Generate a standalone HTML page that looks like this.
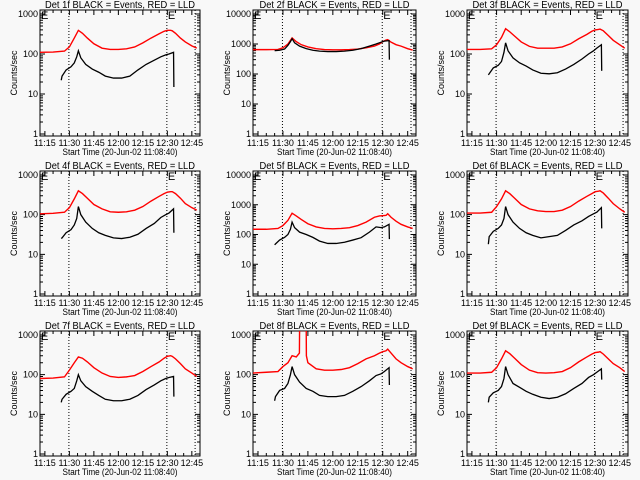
<!DOCTYPE html>
<html><head><meta charset="utf-8"><style>
body{margin:0;background:#f8f8f8}
svg{display:block}
text{font-family:"Liberation Sans",sans-serif;fill:#000}
</style></head><body>
<svg id="c" width="640" height="480" viewBox="0 0 640 480" xmlns="http://www.w3.org/2000/svg">
<rect width="640" height="480" fill="#f8f8f8"/>
</svg>
<script>
// ---- data ----
const detLabels = ["1f","2f","3f","4f","5f","6f","7f","8f","9f"];
const decadesTop = [3,4,3,3,4,3,3,3,3];
const xTickLabels = ["11:15","11:30","11:45","12:00","12:15","12:30","12:45"];
const xTickMinutes = [15,30,45,60,75,90,105];
const markerMinutes = [29.7,89.7,107];
const redT = [12,20,27,30,33,35.5,38,41,45,50,55,60,65,70,75,80,85,88,90,92,93,95,98,101,105,108];
const redT8 = [12,20,27,30,33,35.5,38,39.9,40,44,44.1,45,50,55,60,65,70,75,80,85,88,90,92,93,95,98,101,105,108];
const blackT = [25,25.5,28,31,33,34.5,35.5,37,40,44,48,52,57,62,67,72,77,82,86,89,91,93.8,94];
const red1 = [110,112,118,150,250,390,330,250,180,140,130,130,135,150,190,250,320,370,390,390,380,330,250,200,160,140];
const black1 = [22,28,40,48,60,85,120,80,55,42,35,28,25,25,28,40,55,70,85,95,100,110,15];
const red2 = [650,650,660,750,1000,1600,1200,950,800,700,650,640,640,650,680,750,850,1000,1200,1350,1400,1150,950,850,700,630];
const black2 = [600,600,620,680,900,1200,1500,1100,850,700,620,580,560,560,580,620,700,850,1000,1150,1250,1300,300];
const red3 = [130,130,135,170,260,430,360,280,200,155,140,140,140,150,180,240,310,370,400,410,420,380,290,220,170,140];
const black3 = [30,32,45,52,65,110,190,120,80,60,50,40,33,32,34,42,55,75,100,120,140,170,38];
const red4 = [105,108,115,150,250,400,340,260,180,140,118,115,118,130,160,220,290,340,370,380,380,340,260,190,150,130];
const black4 = [25,26,35,42,55,80,160,100,65,45,35,30,26,25,27,32,45,60,85,100,110,140,35];
const red5 = [150,150,160,200,300,520,420,320,230,180,160,155,160,170,200,260,380,420,430,440,500,380,280,220,180,160];
const black5 = [45,48,65,80,100,150,260,170,120,100,80,60,50,50,55,65,78,120,180,170,180,220,70];
const red6 = [110,110,115,160,250,400,340,260,180,140,125,120,120,130,160,220,290,340,380,390,400,350,260,190,140,115];
const black6 = [18,28,38,45,55,80,160,100,65,45,35,30,26,28,30,40,55,70,90,105,115,150,45];
const red7 = [80,82,88,130,200,280,260,210,150,110,90,85,88,95,120,160,210,260,290,300,290,250,190,140,110,90];
const black7 = [20,24,32,38,45,70,100,70,50,38,30,24,22,22,24,30,42,55,70,80,85,90,28];
const red8 = [110,115,120,160,200,300,280,350,1300,1300,300,200,140,130,130,135,150,190,250,300,350,380,400,440,350,250,200,160,140];
const black8 = [22,28,40,45,60,100,160,100,65,45,38,30,28,28,30,38,50,70,95,105,120,150,55];
const red9 = [110,110,115,150,250,400,340,260,180,130,112,110,112,120,150,210,280,330,360,370,380,330,250,190,150,120];
const black9 = [20,27,35,40,50,80,160,100,60,48,38,32,27,25,27,33,45,60,85,100,115,140,75];
const redSeries = [red1,red2,red3,red4,red5,red6,red7,red8,red9];
const blackSeries = [black1,black2,black3,black4,black5,black6,black7,black8,black9];
const redTimes = [redT,redT,redT,redT,redT,redT,redT,redT8,redT];

// ---- layout ----
const NS = "http://www.w3.org/2000/svg";
const svg = document.getElementById("c");
const boxL = [40,253,467], boxR = [200,416,628];
const boxT = [10,171,331], boxB = [136,296,456];
const tMin = 12, tMax = 110;
function mk(tag, attrs, parent){const e=document.createElementNS(NS,tag);for(const k in attrs)e.setAttribute(k,attrs[k]);(parent||svg).appendChild(e);return e;}

for(let p=0;p<9;p++){
  const col=p%3,row=Math.floor(p/3);
  const L=boxL[col],R=boxR[col],T=boxT[row],B=boxB[row];
  const dec=decadesTop[p];
  const ppd=(B-2-(T+4))/dec;
  const logTop=dec+4/ppd, logBot=-2/ppd;
  const xs=t=>L+(t-tMin)/(tMax-tMin)*(R-L);
  const ys=v=>B-(Math.log10(v)-logBot)/(logTop-logBot)*(B-T);
  const g=mk("g",{});
  
  
  const cp=mk("clipPath",{id:"cp"+p},g);
  mk("rect",{x:L,y:T,width:R-L,height:B-T},cp);
  // title
  const ti=mk("text",{x:(L+R)/2,y:T-2,"font-size":"10","text-anchor":"middle",textLength:150,lengthAdjust:"spacingAndGlyphs"},g);
  ti.textContent="Det "+detLabels[p]+" BLACK = Events, RED = LLD";
  
  
  // y label
  const yl=mk("text",{x:0,y:0,"font-size":"9","text-anchor":"middle",transform:`translate(${L-23},${(T+B)/2}) rotate(-90)`},g);
  yl.textContent="Counts/sec";
  
  
  // x title
  const xt=mk("text",{x:(L+R)/2,y:B+19,"font-size":"9","text-anchor":"middle",textLength:115,lengthAdjust:"spacingAndGlyphs"},g);
  xt.textContent="Start Time (20-Jun-02 11:08:40)";
  
  
  // box
  const bx=mk("rect",{x:L,y:T,width:R-L,height:B-T,fill:"none",stroke:"#000","stroke-width":1},g);
  
  
  // y ticks
  let d="";
  for(let k=0;k<=dec;k++){
    const v=Math.pow(10,k),y=ys(v);
    d+=`M${L},${y}h5M${R},${y}h-5`;
    const lb=mk("text",{x:L-2,y:y+3,"font-size":"9","text-anchor":"end"},g);
    lb.textContent=String(v);
    
    
    if(k<dec||true){for(let m=2;m<10;m++){const vv=v*m;const yy=ys(vv);if(yy<T)break;d+=`M${L},${yy}h3M${R},${yy}h-3`;}}
  }
  // x ticks
  for(let i=0;i<xTickMinutes.length;i++){
    const x=xs(xTickMinutes[i]);
    d+=`M${x},${B}v-5M${x},${T}v5`;
    const lb=mk("text",{x:x,y:B+10,"font-size":"9","text-anchor":"middle"},g);
    lb.textContent=xTickLabels[i];
    
    
  }
  for(let t=15;t<tMax;t+=5){const x=xs(t);d+=`M${x},${B}v-3M${x},${T}v3`;}
  mk("path",{d:d,stroke:"#000","stroke-width":1,fill:"none"},g);
  // markers
  markerMinutes.forEach(m=>{
    const x=xs(m);
    const ln=mk("line",{x1:x,y1:T,x2:x,y2:B,stroke:"#000","stroke-width":1,"stroke-dasharray":"1,2"},g);
    
    
  });
  [L+1,xs(markerMinutes[1])+1].forEach(x=>{
    const e=mk("text",{x:x,y:T+9,"font-size":"11"},g);
    e.textContent="E";
    
    
  });
  // series
  const rt=redTimes[p],rv=redSeries[p];
  const rp=mk("polyline",{points:rt.map((t,i)=>xs(t)+","+ys(rv[i])).join(" "),fill:"none",stroke:"#ff0000","stroke-width":1.4,"clip-path":`url(#cp${p})`},g);
  
  
  const bv=blackSeries[p];
  const bp=mk("polyline",{points:blackT.map((t,i)=>xs(t)+","+ys(bv[i])).join(" "),fill:"none",stroke:"#000","stroke-width":1.3,"clip-path":`url(#cp${p})`},g);
  
  
}
</script>
</body></html>
